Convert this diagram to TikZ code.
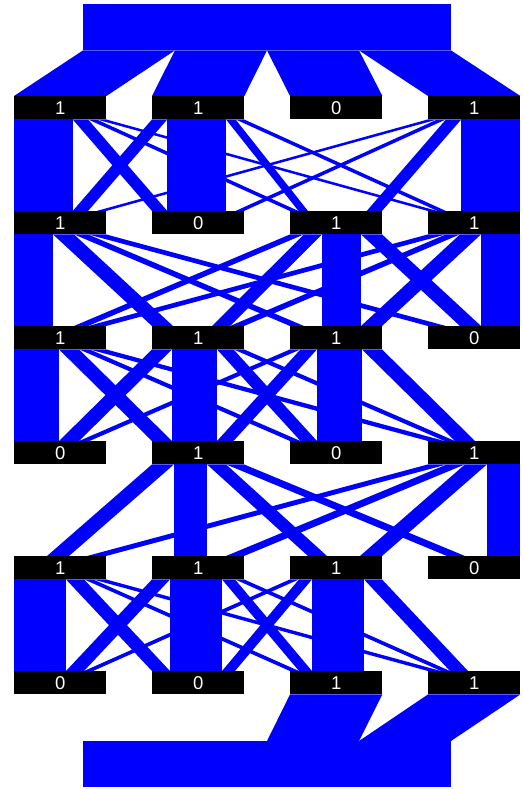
\documentclass[tikz,border=0pt]{standalone}
\usepackage{fontspec}
\setmainfont{Liberation Sans}
\definecolor{flowblue}{RGB}{0,0,255}
\pgfdeclarelayer{bg}
\pgfsetlayers{bg,main}
\newcommand\trans[6]{%
  \def\Ws{#3}\def\Wa{#4}\def\Wb{#5}\def\Wc{#6}%
  \pgfmathtruncatemacro\nr{#1+1}%
  \foreach \i in {#2} {\foreach \j in {0,1,2,3} {%
    \pgfmathsetmacro\w{wt(\i,\j)}%
    \pgfmathsetmacro\A{so(\i,\j)}%
    \pgfmathsetmacro\B{so(\j,\i)}%
    \pgfmathsetmacro\AA{\A+\w}%
    \pgfmathsetmacro\BB{\B+\w}%
    \fill[flow] ([xshift=\A pt]n#1\i.south west) -- ([xshift=\AA pt]n#1\i.south west)
      -- ([xshift=\BB pt]n\nr\j.north west) -- ([xshift=\B pt]n\nr\j.north west) -- cycle;
  }}}
\begin{document}
\begin{tikzpicture}[x=1pt,y=-1pt,
  flow/.style={fill=flowblue},
  block/.style={fill=flowblue,minimum width=368pt,minimum height=46pt,inner sep=0pt,anchor=north west},
  bit/.style={fill=black,text=white,minimum width=92pt,minimum height=23pt,inner sep=0pt,anchor=north west,font=\fontsize{18.5}{18.5}\selectfont},
  declare function={
    xr(\a,\b)=abs(mod(\a,2)-mod(\b,2))+2*abs(floor(\a/2)-floor(\b/2));
    wt(\a,\b)=(xr(\a,\b)==0)*\Ws+(xr(\a,\b)==1)*\Wa+(xr(\a,\b)==2)*\Wb+(xr(\a,\b)==3)*\Wc;
    so(\a,\b)=(\b>0)*wt(\a,0)+(\b>1)*wt(\a,1)+(\b>2)*wt(\a,2);
  }]
\useasboundingbox (0,0) rectangle (524,789);
\foreach \r/\a/\b/\c/\d in {1/1/1/0/1, 2/1/0/1/1, 3/1/1/1/0, 4/0/1/0/1, 5/1/1/1/0, 6/0/0/1/1} {
  \node[bit] (n\r0) at (14, {96+115*(\r-1)}) {\a};
  \node[bit] (n\r1) at (152,{96+115*(\r-1)}) {\b};
  \node[bit] (n\r2) at (290,{96+115*(\r-1)}) {\c};
  \node[bit] (n\r3) at (428,{96+115*(\r-1)}) {\d};
}
\begin{pgfonlayer}{bg}
\node[block] (src) at (83,4) {};
\node[block] (snk) at (83,741) {};
\foreach \j in {0,1,2,3} {
  \pgfmathsetmacro\A{92*\j}\pgfmathsetmacro\AA{92*\j+92}
  \fill[flow] ([xshift=\A pt]src.south west) -- ([xshift=\AA pt]src.south west)
    -- (n1\j.north east) -- (n1\j.north west) -- cycle;
}
\foreach \j in {2,3} {
  \pgfmathsetmacro\A{92*\j}\pgfmathsetmacro\AA{92*\j+92}
  \fill[flow] (n6\j.south west) -- (n6\j.south east)
    -- ([xshift=\AA pt]snk.north west) -- ([xshift=\A pt]snk.north west) -- cycle;
}
\trans{1}{0,1,3}{58.7}{15.3}{8.5}{9.5}
\trans{2}{0,2,3}{39}{21}{14}{18}
\trans{3}{0,1,2}{45}{20}{10.5}{16.5}
\trans{4}{1,3}{33}{22}{18}{19}
\trans{5}{0,1,2}{52}{18}{9}{13}
\end{pgfonlayer}
\end{tikzpicture}
\end{document}
